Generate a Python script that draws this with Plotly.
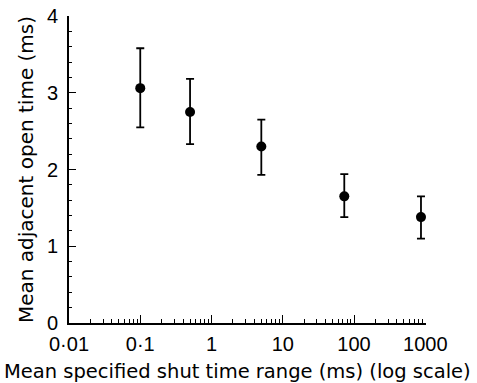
import plotly.graph_objects as go

x_vals = [0.1, 0.5, 5, 73, 870]
y_vals = [3.06, 2.75, 2.30, 1.65, 1.38]
err_plus = [0.52, 0.43, 0.35, 0.29, 0.27]
err_minus = [0.51, 0.42, 0.37, 0.27, 0.28]

x_tickvals = [0.01, 0.1, 1, 10, 100, 1000]
x_ticktext = ["0·01", "0·1", "1", "10", "100", "1000"]
y_tickvals = [0, 1, 2, 3, 4]

x_title = "Mean specified shut time range (ms) (log scale)"
y_title = "Mean adjacent open time (ms)"

TICK_FONT = "Liberation Sans, Arial, sans-serif"
TITLE_FONT = "DejaVu Sans, sans-serif"
X_RANGE = [-2, 3.01]

fig = go.Figure()
# invisible trace on the overlay axis that carries the minor log ticks
fig.add_trace(go.Scatter(
    x=x_vals, y=y_vals, mode="markers", xaxis="x2",
    marker=dict(color="rgba(0,0,0,0)", size=1),
    hoverinfo="skip", showlegend=False,
))
fig.add_trace(go.Scatter(
    x=x_vals, y=y_vals, mode="markers",
    marker=dict(color="black", size=10),
    error_y=dict(type="data", symmetric=False, array=err_plus, arrayminus=err_minus,
                 color="black", thickness=1.8, width=4),
    showlegend=False,
))

fig.update_layout(
    width=477, height=383,
    margin=dict(l=69, r=51, t=16, b=60),
    paper_bgcolor="white", plot_bgcolor="white",
    font=dict(family=TICK_FONT, color="black", size=20),
    xaxis=dict(
        type="log", range=X_RANGE, automargin=False,
        tickvals=x_tickvals, ticktext=x_ticktext,
        ticks="inside", ticklen=8, tickwidth=1.4, tickcolor="black",
        ticklabelstandoff=2,
        showline=True, linecolor="black", linewidth=1.6,
        showgrid=False, zeroline=False,
        tickfont=dict(size=20, family=TICK_FONT),
    ),
    xaxis2=dict(
        type="log", range=X_RANGE, overlaying="x", anchor="y", side="bottom",
        dtick="D1", ticks="inside", ticklen=4, tickwidth=1.1, tickcolor="black",
        showticklabels=False, showgrid=False, zeroline=False, showline=False,
        automargin=False,
    ),
    yaxis=dict(
        range=[0, 4], tickvals=y_tickvals, automargin=False,
        ticks="inside", ticklen=7, tickwidth=1.4, tickcolor="black",
        minor=dict(ticks="inside", ticklen=3.5, tickwidth=1.1, tickcolor="black", dtick=0.2),
        ticklabelstandoff=5,
        showline=True, linecolor="black", linewidth=1.6,
        showgrid=False, zeroline=False,
        tickfont=dict(size=20, family=TICK_FONT),
        title=dict(text=y_title, standoff=8,
                   font=dict(size=20, family=TITLE_FONT)),
    ),
    annotations=[dict(
        text=x_title, xref="paper", yref="paper",
        x=(237 - 69) / 356, y=-(371 - 323) / 307,
        xanchor="center", yanchor="middle", showarrow=False,
        font=dict(size=19.5, family=TITLE_FONT, color="black"),
    )],
)

fig.write_html("out.html")
